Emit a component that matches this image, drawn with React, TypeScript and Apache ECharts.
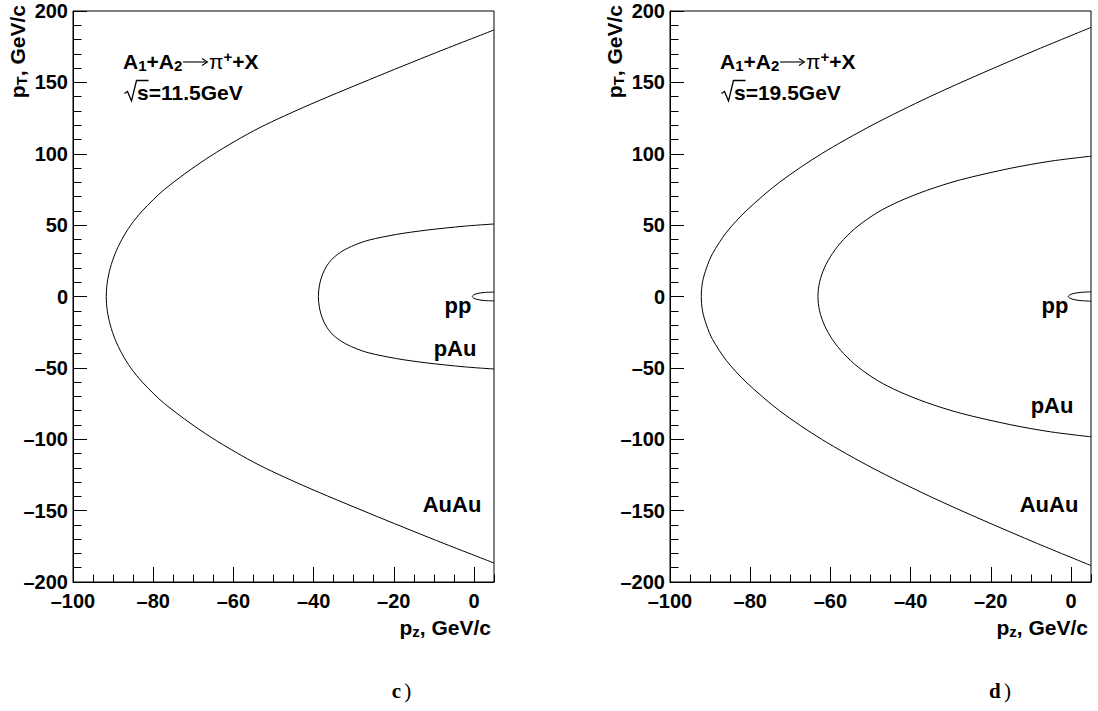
import React, { useEffect, useRef } from "react";
import * as echarts from "echarts";

// ---- data: kinematic boundaries, upper branch (curves are symmetric in pT) ----
// sqrt(s) = 11.5 GeV
const pzAuAu115 = [5, -9.3, -26.0, -42.6, -55.0, -67.0, -77.2, -82.7, -85.6, -87.8, -89.5, -90.7, -91.45, -91.7];
const ptAuAu115 = [186.7, 171, 152, 132.4, 116, 96, 75, 60, 50, 40, 30, 20, 10, 0];
const pzPAu115 = [5, -2.3, -11.8, -19.3, -26.2, -29.8, -32.7, -35.1, -36.7, -37.84, -38.53, -38.8];
const ptPAu115 = [50.8, 49.3, 46.5, 43.5, 39.5, 36, 32, 27, 21.5, 15, 8, 0];
const pzPP115 = [5, 2.5, 1.0, 0, -0.4];
const ptPP115 = [3.1, 2.8, 2.2, 1.3, 0];
// sqrt(s) = 19.5 GeV
const pzAuAu195 = [5, -8.4, -21.7, -35.2, -49.6, -62.2, -72.7, -81.0, -85.9, -89.4, -90.9, -91.9, -92.2];
const ptAuAu195 = [188.5, 173, 157, 140, 120, 100, 80, 60, 45, 30, 20, 10, 0];
const pzPAu195 = [5, -5.1, -15.1, -27.6, -36.1, -43.1, -48.1, -53.1, -56.7, -59.5, -61.5, -62.7, -63.1];
const ptPAu195 = [98.3, 94.8, 89.8, 81.7, 74.2, 66.3, 59.1, 49.4, 40.0, 30.1, 20.0, 10.0, 0];
const pzPP195 = [5, 2.5, 1.0, 0, -0.7];
const ptPP195 = [3.3, 2.9, 2.3, 1.5, 0];

const panelEnergies = ["11.5", "19.5"];
const panelLetters = ["c", "d"];
const curveNames = ["pp", "pAu", "AuAu"];

const X_MIN = -100;
const X_MAX = 5;
const X_MAJOR = 20;
const X_MINOR = 5;
const Y_MIN = -200;
const Y_MAX = 200;
const Y_MAJOR = 50;

const FONT = '"Liberation Sans", Arial, Helvetica, sans-serif';
const SERIF = '"Liberation Serif", "DejaVu Serif", serif';

function closedCurve(pz: number[], pt: number[]): number[][] {
  const out: number[][] = [];
  for (let i = 0; i < pz.length; i++) out.push([pz[i], pt[i]]);
  for (let i = pz.length - 2; i >= 0; i--) out.push([pz[i], -pt[i]]);
  return out;
}

const fmt = (v: number) => (v === X_MAX ? "" : String(v).replace("-", "\u2013"));

export default function App() {
  const ref = useRef<HTMLDivElement>(null);

  useEffect(() => {
    if (!ref.current) return;
    const chart = echarts.init(ref.current, null, { renderer: "svg" });

    const grids = [
      { left: 73, top: 11, width: 421, height: 571 },
      { left: 670, top: 11, width: 421, height: 571 },
    ];
    const offsets = [0, 597];

    const xAxis: any[] = [];
    const yAxis: any[] = [];
    grids.forEach((_, g) => {
      xAxis.push({
        gridIndex: g,
        type: "value",
        position: "bottom",
        min: X_MIN,
        max: X_MAX,
        interval: X_MAJOR,
        axisLine: { show: true, onZero: false, lineStyle: { color: "#000", width: 1 } },
        axisTick: { show: true, inside: true, length: 15, lineStyle: { color: "#000", width: 1 } },
        axisLabel: {
          show: true,
          margin: 9,
          color: "#000",
          fontFamily: FONT,
          fontWeight: "bold",
          fontSize: 20,
          formatter: fmt,
          showMaxLabel: false,
        },
        splitLine: { show: false },
      });
      xAxis.push({
        gridIndex: g,
        type: "value",
        position: "bottom",
        min: X_MIN,
        max: X_MAX,
        interval: X_MINOR,
        axisLine: { show: false, onZero: false },
        axisTick: { show: true, inside: true, length: 7.5, lineStyle: { color: "#000", width: 1 } },
        axisLabel: { show: false },
        splitLine: { show: false },
      });
      yAxis.push({
        gridIndex: g,
        type: "value",
        min: Y_MIN,
        max: Y_MAX,
        interval: Y_MAJOR,
        axisLine: { show: true, onZero: false, lineStyle: { color: "#000", width: 1 } },
        axisTick: { show: true, inside: true, length: 14, lineStyle: { color: "#000", width: 1 } },
        minorTick: { show: true, splitNumber: 5, length: 8.5, lineStyle: { color: "#000", width: 1 } },
        axisLabel: {
          show: true,
          margin: 5,
          color: "#000",
          fontFamily: FONT,
          fontWeight: "bold",
          fontSize: 20,
          formatter: (v: number) => String(v).replace("-", "\u2013"),
        },
        splitLine: { show: false },
        minorSplitLine: { show: false },
      });
    });

    const curves = [
      [
        closedCurve(pzPP115, ptPP115),
        closedCurve(pzPAu115, ptPAu115),
        closedCurve(pzAuAu115, ptAuAu115),
      ],
      [
        closedCurve(pzPP195, ptPP195),
        closedCurve(pzPAu195, ptPAu195),
        closedCurve(pzAuAu195, ptAuAu195),
      ],
    ];

    const series: any[] = [];
    curves.forEach((set, g) => {
      set.forEach((data, k) => {
        series.push({
          name: curveNames[k] + " " + panelEnergies[g],
          type: "line",
          xAxisIndex: g * 2,
          yAxisIndex: g,
          data,
          showSymbol: false,
          symbol: "none",
          smooth: 0.3,
          clip: true,
          silent: true,
          lineStyle: { color: "#000", width: 1 },
        });
      });
    });

    const mainRich = {
      b: { fontFamily: FONT, fontWeight: "bold", fontSize: 21, lineHeight: 24, fill: "#000", color: "#000" },
      n: { fontFamily: FONT, fontWeight: "normal", fontSize: 21, lineHeight: 24, fill: "#000", color: "#000" },
      sub: { fontFamily: FONT, fontWeight: "bold", fontSize: 15, lineHeight: 9, verticalAlign: "bottom", fill: "#000", color: "#000" },
      sup: { fontFamily: FONT, fontWeight: "bold", fontSize: 15, lineHeight: 10, verticalAlign: "top", fill: "#000", color: "#000" },
    };

    // label positions (relative to left panel)
    const labelPos: Record<string, number[][]> = {
      pp: [[458, 305.4], [458, 305.4]],
      pAu: [[455, 348], [455, 405.4]],
      AuAu: [[452, 504], [452, 504]],
    };

    const graphic: any[] = [];
    [0, 1].forEach((g) => {
      const o = offsets[g];
      // y title
      graphic.push({
        type: "text",
        x: 17 + o,
        y: 5,
        rotation: Math.PI / 2,
        silent: true,
        style: {
          text: "{b|p}{sub|T}{b|, GeV/c}",
          rich: mainRich,
          align: "right",
          verticalAlign: "middle",
          fill: "#000",
        },
      });
      // x title
      graphic.push({
        type: "text",
        x: 491 + o,
        y: 627,
        silent: true,
        style: {
          text: "{b|p}{sub|z}{b|, GeV/c}",
          rich: mainRich,
          align: "right",
          verticalAlign: "middle",
          fill: "#000",
        },
      });
      // reaction: A1+A2 -> pi+ + X
      graphic.push({
        type: "text",
        x: 123 + o,
        y: 49,
        silent: true,
        style: {
          text: "{b|A}{sub|1}{b|+A}{sub|2}",
          rich: mainRich,
          align: "left",
          verticalAlign: "top",
          fill: "#000",
        },
      });
      graphic.push({
        type: "line",
        silent: true,
        shape: { x1: 183 + o, y1: 62, x2: 207 + o, y2: 62 },
        style: { stroke: "#000", lineWidth: 1.1 },
      });
      graphic.push({
        type: "polyline",
        silent: true,
        shape: { points: [[202 + o, 58.5], [207.5 + o, 62], [202 + o, 65.5]] },
        style: { stroke: "#000", lineWidth: 1.1, fill: null },
      });
      graphic.push({
        type: "text",
        x: 209 + o,
        y: 49,
        silent: true,
        style: {
          text: "{n|\u03c0}{sup|+}{b|+X}",
          rich: mainRich,
          align: "left",
          verticalAlign: "top",
          fill: "#000",
        },
      });
      // sqrt(s) = ... GeV
      graphic.push({
        type: "polyline",
        silent: true,
        shape: {
          points: [
            [124.5 + o, 93.5],
            [127.5 + o, 91.5],
            [131.5 + o, 101],
            [136.5 + o, 80.5],
            [148.5 + o, 80.5],
          ],
        },
        style: { stroke: "#000", lineWidth: 1.3, fill: null },
      });
      graphic.push({
        type: "text",
        x: 137 + o,
        y: 80.7,
        silent: true,
        style: {
          text: "{b|s=" + panelEnergies[g] + "GeV}",
          rich: mainRich,
          align: "left",
          verticalAlign: "top",
          fill: "#000",
        },
      });
      // curve labels
      curveNames.forEach((nm) => {
        const p = labelPos[nm][g];
        graphic.push({
          type: "text",
          x: p[0] + o,
          y: p[1],
          silent: true,
          style: {
            text: nm,
            fontFamily: FONT,
            fontWeight: "bold",
            fontSize: 22,
            fill: "#000",
            align: "center",
            verticalAlign: "middle",
          },
        });
      });
      // panel letter
      graphic.push({
        type: "text",
        x: [401.5, 1000][g],
        y: 691,
        silent: true,
        style: {
          text: "{l|" + panelLetters[g] + "} {r|)}",
          rich: {
            l: { fontFamily: SERIF, fontWeight: "bold", fontSize: 21, fill: "#000", color: "#000" },
            r: { fontFamily: SERIF, fontWeight: "normal", fontSize: 21, fill: "#000", color: "#000" },
          },
          align: "center",
          verticalAlign: "middle",
          fill: "#000",
        },
      });
    });

    chart.setOption({
      animation: false,
      backgroundColor: "#fff",
      grid: grids.map((gr) => ({
        ...gr,
        show: true,
        borderColor: "#000",
        borderWidth: 1,
        backgroundColor: "transparent",
        containLabel: false,
      })),
      xAxis,
      yAxis,
      series,
      graphic,
    });

    return () => chart.dispose();
  }, []);

  return (
    <div
      ref={ref}
      style={{ position: "absolute", left: 0, top: 0, width: 1098, height: 711, background: "#fff" }}
    />
  );
}
